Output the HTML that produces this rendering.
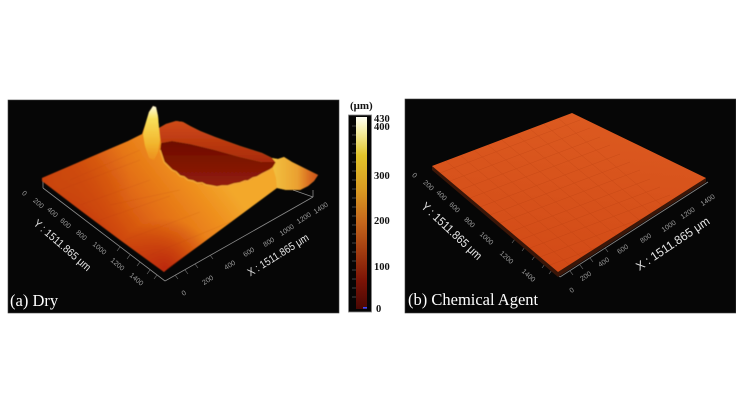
<!DOCTYPE html>
<html><head><meta charset="utf-8"><style>html,body{margin:0;padding:0;background:#fff}svg{display:block}</style></head>
<body>
<svg width="736" height="414" viewBox="0 0 736 414" xmlns="http://www.w3.org/2000/svg">
<defs>
<linearGradient id="lsurf" gradientUnits="userSpaceOnUse" x1="110" y1="260" x2="220" y2="175">
<stop offset="0" stop-color="#c4340a"/><stop offset="0.45" stop-color="#e26c14"/><stop offset="0.8" stop-color="#ef901e"/><stop offset="1" stop-color="#f3a82c"/>
</linearGradient>
<radialGradient id="lcorner" gradientUnits="userSpaceOnUse" cx="60" cy="182" r="70">
<stop offset="0" stop-color="#cc4a10" stop-opacity="0.85"/><stop offset="1" stop-color="#cc4a10" stop-opacity="0"/>
</radialGradient>
<radialGradient id="lfront" gradientUnits="userSpaceOnUse" cx="165" cy="268" r="50">
<stop offset="0" stop-color="#b82205" stop-opacity="0.85"/><stop offset="1" stop-color="#b82205" stop-opacity="0"/>
</radialGradient>
<linearGradient id="crater" x1="0" y1="0" x2="0" y2="1">
<stop offset="0" stop-color="#6e0c04"/><stop offset="1" stop-color="#941e08"/>
</linearGradient>
<linearGradient id="wall" x1="0" y1="0" x2="0" y2="1">
<stop offset="0" stop-color="#d04a16"/><stop offset="1" stop-color="#a82a0c"/>
</linearGradient>
<linearGradient id="spike" gradientUnits="userSpaceOnUse" x1="0" y1="106" x2="0" y2="170">
<stop offset="0" stop-color="#fffde0"/><stop offset="0.2" stop-color="#f8e05a"/><stop offset="0.6" stop-color="#f2b42c"/><stop offset="1" stop-color="#ee9620" stop-opacity="0"/>
</linearGradient>
<linearGradient id="ridge" gradientUnits="userSpaceOnUse" x1="270" y1="0" x2="320" y2="0">
<stop offset="0" stop-color="#f4c440"/><stop offset="0.55" stop-color="#eaa030"/><stop offset="0.8" stop-color="#d86a20"/><stop offset="1" stop-color="#c84c18"/>
</linearGradient>
<linearGradient id="cbar" x1="0" y1="0" x2="0" y2="1">
<stop offset="0" stop-color="#fffff4"/><stop offset="0.08" stop-color="#f4eca0"/><stop offset="0.2" stop-color="#e2c42a"/><stop offset="0.38" stop-color="#d89a22"/><stop offset="0.55" stop-color="#c4661c"/><stop offset="0.7" stop-color="#a23c10"/><stop offset="0.85" stop-color="#7c1406"/><stop offset="1" stop-color="#4a0804"/>
</linearGradient>
<linearGradient id="rsurf" gradientUnits="userSpaceOnUse" x1="572" y1="113" x2="558" y2="272">
<stop offset="0" stop-color="#dc5a20"/><stop offset="1" stop-color="#d24a16"/>
</linearGradient>
<clipPath id="rclip"><polygon points="432,166 572,113 706,178 558,272"/></clipPath>
<filter id="soft" x="-5%" y="-5%" width="110%" height="110%"><feGaussianBlur stdDeviation="0.45"/></filter>
</defs>
<rect width="736" height="414" fill="#ffffff"/>
<rect x="8" y="100" width="331" height="213" fill="#060606" stroke="#444" stroke-width="0.6"/>
<rect x="405" y="99" width="331" height="214" fill="#060606" stroke="#444" stroke-width="0.6"/>

<!-- LEFT PANEL axes -->
<g stroke="#8a8a8a" stroke-width="0.8" fill="none">
<line x1="43" y1="188" x2="165" y2="281"/>
<line x1="165" y1="281" x2="313" y2="197"/>
<line x1="293" y1="190" x2="313" y2="197"/>
<line x1="313" y1="190" x2="313" y2="197"/>
<line x1="43" y1="181" x2="43" y2="188"/>
</g>
<g stroke="#777" stroke-width="0.6">
<line x1="120" y1="247" x2="117" y2="251"/><line x1="130" y1="255" x2="127" y2="259"/><line x1="140" y1="262" x2="137" y2="266"/><line x1="150" y1="270" x2="147" y2="274"/><line x1="157" y1="275" x2="154" y2="279"/>
<line x1="175" y1="275" x2="178" y2="279"/><line x1="185" y1="270" x2="188" y2="274"/><line x1="195" y1="264" x2="198" y2="268"/><line x1="210" y1="255" x2="213" y2="259"/>
</g>

<!-- LEFT surface -->
<g filter="url(#soft)">
<polygon points="42,178 70,166 100,153 128,141 142,134 146,122 149,112 153,106 156,107 158,116 159,128 166,124 176,121 183,122 190,126 200,131 215,137 240,146 262,153 272,158 278,159 284,157 292,162 300,166 310,171 318,175 314,181 308,186 300,190 286,190 277,188 250,208 200,245 168,268 164,272 120,240 80,210 42,181" fill="url(#lsurf)"/>
<polygon points="42,178 70,166 100,153 128,141 142,134 159,128 240,146 278,159 318,175 300,190 277,188 250,208 200,245 164,272 120,240 80,210 42,181" fill="url(#lcorner)"/>
<polygon points="42,178 70,166 100,153 128,141 142,134 159,128 240,146 278,159 318,175 300,190 277,188 250,208 200,245 164,272 120,240 80,210 42,181" fill="url(#lfront)"/>
<!-- back wall -->
<polygon points="159,128 166,124 176,121 183,122 190,126 200,131 215,137 240,146 262,153 272,158 276,162 262,162 240,157 215,150 190,144 172,141 161,143" fill="url(#wall)"/>
<!-- crater interior -->
<polygon points="161,143 172,141 190,144 215,150 240,157 262,162 276,162 273,168 266,172 257,177 248,181 240,183 228,186 217,187 206,185 197,183 188,180 180,176 172,170 164,162 160,152" fill="url(#crater)"/>
<polyline points="160,150 164,162 168,166 172,170 176,172 180,176 184,177 188,180 193,181 197,183 202,183 206,185 212,186 217,187 222,186 228,186 234,184 240,183 245,181 248,181 253,178 257,177 262,174 266,172 270,170 273,168 276,163" fill="none" stroke="#f2a634" stroke-width="1.5"/>
<!-- spike -->
<polygon points="143,134 146,122 149,112 153,106 156,107 158,116 159,128 160,140 158,152 154,160 149,158 145,146" fill="url(#spike)"/>
<!-- right ridge -->
<polygon points="272,158 278,159 284,157 292,162 300,166 310,171 318,175 314,181 308,186 300,190 286,190 277,188 276,178 273,168 276,163" fill="url(#ridge)"/>
<!-- subtle streaks -->
<g stroke="#a83006" stroke-width="0.5" opacity="0.22">
<line x1="60" y1="190" x2="140" y2="160"/><line x1="80" y1="205" x2="150" y2="180"/><line x1="100" y1="220" x2="170" y2="196"/><line x1="125" y1="240" x2="200" y2="212"/><line x1="150" y1="255" x2="230" y2="222"/>
<line x1="70" y1="180" x2="140" y2="150"/><line x1="110" y1="205" x2="180" y2="190"/>
</g>
</g>

<!-- Left tick labels -->
<g font-family="Liberation Sans, sans-serif" font-size="7" fill="#9c9c9c" text-anchor="middle">
<text transform="translate(23,195) rotate(41)">0</text>
<text transform="translate(37,205) rotate(41)">200</text>
<text transform="translate(51,214) rotate(41)">400</text>
<text transform="translate(64,225) rotate(41)">600</text>
<text transform="translate(80,237) rotate(41)">800</text>
<text transform="translate(98,250) rotate(41)">1000</text>
<text transform="translate(116,266) rotate(41)">1200</text>
<text transform="translate(135,281) rotate(41)">1400</text>
<text transform="translate(185,295) rotate(-32)">0</text>
<text transform="translate(209,282) rotate(-32)">200</text>
<text transform="translate(231,267) rotate(-32)">400</text>
<text transform="translate(250,254) rotate(-32)">600</text>
<text transform="translate(270,244) rotate(-32)">800</text>
<text transform="translate(288,232) rotate(-32)">1000</text>
<text transform="translate(305,220) rotate(-32)">1200</text>
<text transform="translate(322,210) rotate(-32)">1400</text>
</g>
<g font-family="Liberation Sans, sans-serif" font-size="11" fill="#e6e6e6" text-anchor="middle">
<text transform="translate(60,248) rotate(41)" textLength="72" lengthAdjust="spacingAndGlyphs">Y : 1511.865 μm</text>
<text transform="translate(280,258) rotate(-32)" textLength="70" lengthAdjust="spacingAndGlyphs">X : 1511.865 μm</text>
</g>
<text x="10" y="306" font-family="Liberation Serif, serif" font-size="16.5" fill="#ffffff">(a) Dry</text>

<!-- COLORBAR -->
<text x="350" y="109" font-family="Liberation Serif, serif" font-weight="bold" font-size="11" fill="#111">(μm)</text>
<rect x="348.5" y="115" width="23" height="197" fill="#050505" stroke="#888" stroke-width="0.8"/>
<rect x="356" y="117" width="11" height="192" fill="url(#cbar)"/>
<g stroke="#cfcfcf" stroke-width="0.5" opacity="0.6">
<line x1="352" y1="126" x2="356" y2="126"/><line x1="352" y1="135" x2="356" y2="135"/><line x1="352" y1="144" x2="356" y2="144"/><line x1="352" y1="153" x2="356" y2="153"/><line x1="352" y1="162" x2="356" y2="162"/><line x1="352" y1="171" x2="356" y2="171"/><line x1="352" y1="180" x2="356" y2="180"/><line x1="352" y1="189" x2="356" y2="189"/><line x1="352" y1="198" x2="356" y2="198"/><line x1="352" y1="207" x2="356" y2="207"/><line x1="352" y1="216" x2="356" y2="216"/><line x1="352" y1="225" x2="356" y2="225"/><line x1="352" y1="234" x2="356" y2="234"/><line x1="352" y1="243" x2="356" y2="243"/><line x1="352" y1="252" x2="356" y2="252"/><line x1="352" y1="261" x2="356" y2="261"/><line x1="352" y1="270" x2="356" y2="270"/><line x1="352" y1="279" x2="356" y2="279"/><line x1="352" y1="288" x2="356" y2="288"/><line x1="352" y1="297" x2="356" y2="297"/>
</g>
<rect x="363" y="307" width="4" height="1.6" fill="#3a4cff"/>
<g font-family="Liberation Serif, serif" font-weight="bold" font-size="10.5" fill="#111">
<text x="374" y="122">430</text>
<text x="374" y="130">400</text>
<text x="374" y="179">300</text>
<text x="374" y="224">200</text>
<text x="374" y="270">100</text>
<text x="376" y="312">0</text>
</g>

<!-- RIGHT PANEL axes -->
<g stroke="#8a8a8a" stroke-width="0.8" fill="none">
<line x1="433" y1="170" x2="560" y2="277"/>
<line x1="560" y1="277" x2="708" y2="182"/>
</g>
<g stroke="#777" stroke-width="0.6">
<line x1="515" y1="239" x2="512" y2="243"/><line x1="525" y1="247" x2="522" y2="251"/><line x1="535" y1="256" x2="532" y2="260"/><line x1="545" y1="264" x2="542" y2="268"/><line x1="552" y1="270" x2="549" y2="274"/>
<line x1="570" y1="271" x2="573" y2="275"/><line x1="580" y1="265" x2="583" y2="269"/><line x1="590" y1="258" x2="593" y2="262"/><line x1="605" y1="248" x2="608" y2="252"/>
</g>
<!-- right surface -->
<polygon points="432,166 558,272 706,178 706,182 558,277 432,170" fill="#3a1608"/>
<polygon points="432,166 572,113 706,178 558,272" fill="url(#rsurf)"/>
<g clip-path="url(#rclip)" stroke="#a8360c" stroke-width="0.5" opacity="0.3">
<line x1="446" y1="161" x2="572" y2="267"/><line x1="460" y1="155" x2="586" y2="261"/><line x1="474" y1="150" x2="600" y2="256"/><line x1="488" y1="145" x2="614" y2="251"/><line x1="502" y1="140" x2="628" y2="245"/><line x1="516" y1="134" x2="642" y2="240"/><line x1="530" y1="129" x2="656" y2="234"/><line x1="544" y1="124" x2="670" y2="229"/><line x1="558" y1="118" x2="684" y2="224"/>
<line x1="440" y1="173" x2="580" y2="120"/><line x1="450" y1="181" x2="590" y2="128"/><line x1="460" y1="190" x2="600" y2="137"/><line x1="470" y1="198" x2="610" y2="145"/><line x1="480" y1="207" x2="620" y2="154"/><line x1="490" y1="215" x2="630" y2="162"/><line x1="500" y1="223" x2="640" y2="170"/><line x1="510" y1="232" x2="650" y2="179"/><line x1="520" y1="240" x2="660" y2="187"/><line x1="530" y1="248" x2="670" y2="195"/><line x1="540" y1="257" x2="680" y2="204"/><line x1="550" y1="265" x2="690" y2="212"/>
</g>
<g font-family="Liberation Sans, sans-serif" font-size="7" fill="#9c9c9c" text-anchor="middle">
<text transform="translate(413,177) rotate(43)">0</text>
<text transform="translate(427,187) rotate(43)">200</text>
<text transform="translate(440,197) rotate(43)">400</text>
<text transform="translate(453,209) rotate(43)">600</text>
<text transform="translate(468,224) rotate(43)">800</text>
<text transform="translate(485,240) rotate(43)">1000</text>
<text transform="translate(505,259) rotate(43)">1200</text>
<text transform="translate(527,277) rotate(43)">1400</text>
<text transform="translate(573,292) rotate(-34)">0</text>
<text transform="translate(587,278) rotate(-34)">200</text>
<text transform="translate(605,264) rotate(-34)">400</text>
<text transform="translate(624,251) rotate(-34)">600</text>
<text transform="translate(647,240) rotate(-34)">800</text>
<text transform="translate(670,228) rotate(-34)">1000</text>
<text transform="translate(689,215) rotate(-34)">1200</text>
<text transform="translate(709,202) rotate(-34)">1400</text>
</g>
<g font-family="Liberation Sans, sans-serif" font-size="12" fill="#e6e6e6" text-anchor="middle">
<text transform="translate(449,234) rotate(43)" textLength="78" lengthAdjust="spacingAndGlyphs">Y : 1511.865 μm</text>
<text transform="translate(675,247) rotate(-34)" textLength="86" lengthAdjust="spacingAndGlyphs">X : 1511.865 μm</text>
</g>
<text x="408" y="305" font-family="Liberation Serif, serif" font-size="16.5" fill="#ffffff">(b) Chemical Agent</text>
</svg>
</body></html>
